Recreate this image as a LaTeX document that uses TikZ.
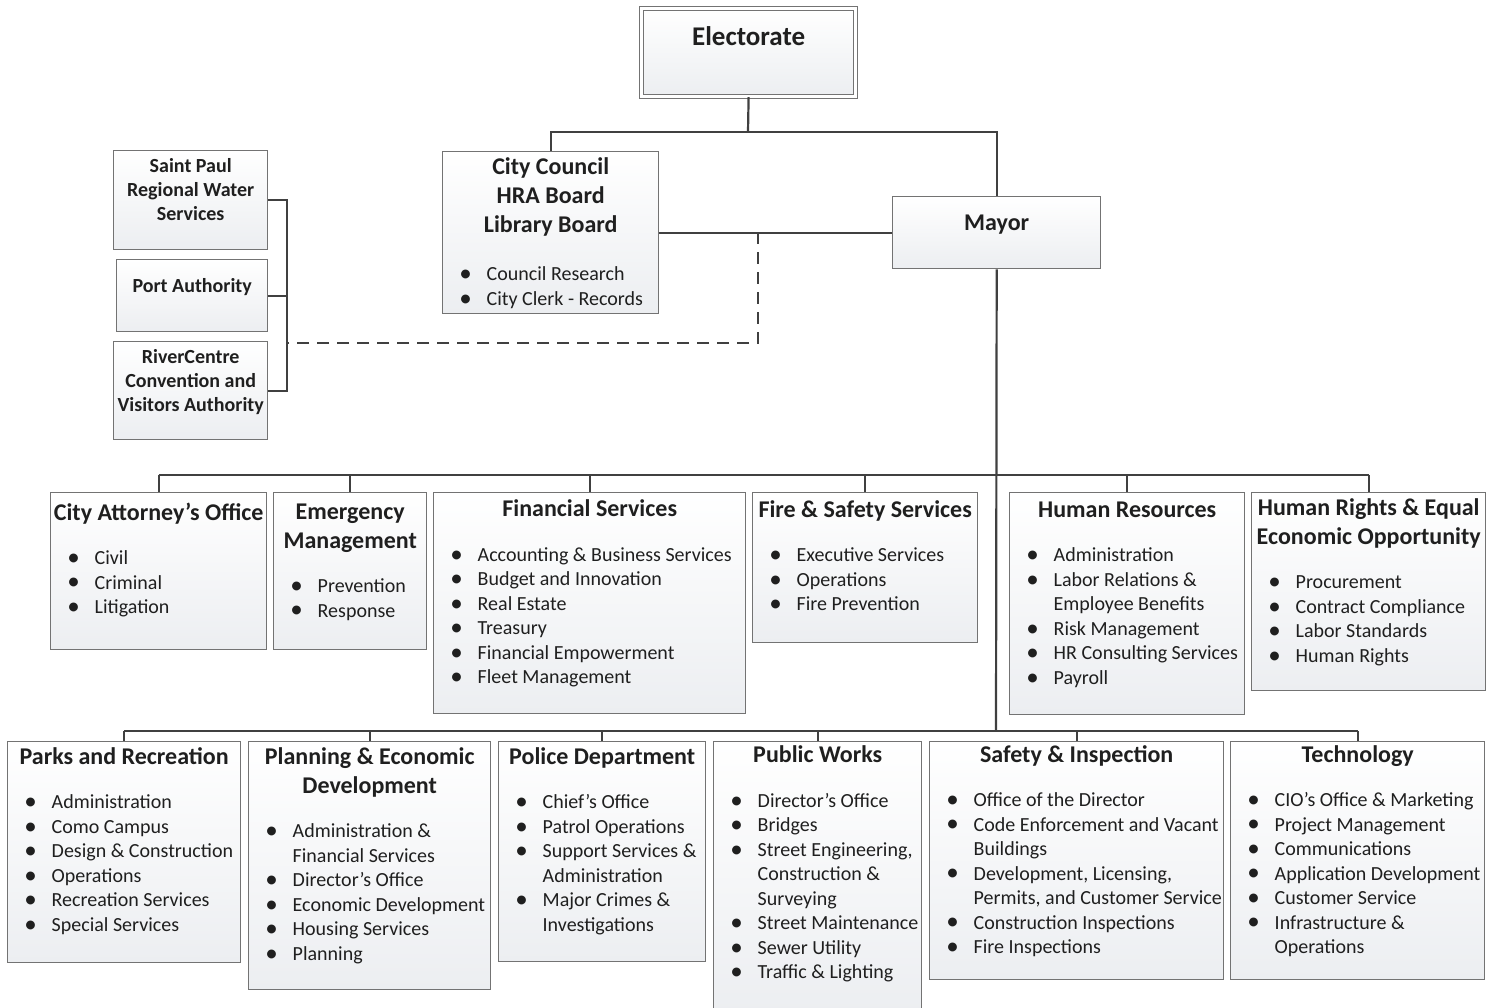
\documentclass[tikz,border=0pt]{standalone}
\usepackage{fontspec}
\setmainfont{Carlito}
\usepackage{tikz}

\definecolor{boxbot}{RGB}{236,238,241}
\newlength\px \setlength\px{0.5pt}
\newcommand{\bodyfont}{\fontsize{10}{12.25}\selectfont\mdseries}
\newcommand{\headfont}{\fontsize{12}{14.5}\selectfont\bfseries}
\newcommand{\itm}[1]{\par\noindent\hspace*{8.3pt}\makebox[13.7pt][l]{\raisebox{-0.1ex}{\scalebox{1.25}{\textbullet}}}#1}
\newcommand{\brk}{\newline\hspace*{22pt}}
% width, height (px), top pad, title, items
\newcommand{\unitbox}[5]{\begin{minipage}[t][#2\px][t]{#1\px}\vspace*{#3}\centering\headfont\strut #4\par\vspace{10pt}\raggedright\bodyfont #5\par\end{minipage}}
\newcommand{\agencybox}[4]{\begin{minipage}[t][#2\px][t]{#1\px}\vspace*{#3}\centering\fontsize{10}{12}\selectfont\bfseries\strut #4\par\end{minipage}}

\begin{document}
\begin{tikzpicture}[x=0.5pt,y=-0.5pt]
\tikzstyle{unit}=[draw=black!55,line width=0.7pt,top color=white,bottom color=boxbot,inner sep=0pt,anchor=north west,text=black!88]
\tikzstyle{link}=[draw=black!75,line width=1.1pt]
\useasboundingbox (0,0) rectangle (1499,1007);

% top of the chart
\node[unit,double=white,double distance=1.2pt,line width=0.6pt] (elect) at (641,8) {\unitbox{214}{88}{8.2pt}{\fontsize{13.5}{16}\selectfont Electorate}{}};
\node[unit] (council) at (442,151) {\unitbox{216}{162}{1.2pt}{City Council\\HRA Board\\Library Board}{\vspace{2pt}\itm{Council Research}\itm{City Clerk - Records}}};
\node[unit] (mayor) at (892,196) {\unitbox{208}{72}{6.7pt}{Mayor}{}};

% independent agencies
\node[unit] (spw) at (113,150) {\agencybox{154}{99}{2.3pt}{Saint Paul\\Regional Water\\Services}};
\node[unit] (port) at (116,259) {\agencybox{151}{72}{7.8pt}{Port Authority}};
\node[unit] (rcv) at (113,341) {\agencybox{154}{98}{2.3pt}{RiverCentre\\Convention and\\Visitors Authority}};

% first row of departments
\node[unit] (cao) at (50,492) {\unitbox{216}{157}{3.5pt}{City Attorney’s Office}{\itm{Civil}\itm{Criminal}\itm{Litigation}}};
\node[unit] (em) at (273,492) {\unitbox{153}{157}{3pt}{Emergency\\Management}{\itm{Prevention}\itm{Response}}};
\node[unit] (fin) at (433,492) {\unitbox{312}{221}{1.8pt}{Financial Services}{\itm{Accounting \& Business Services}\itm{Budget and Innovation}\itm{Real Estate}\itm{Treasury}\itm{Financial Empowerment}\itm{Fleet Management}}};
\node[unit] (fire) at (752,492) {\unitbox{225}{150}{2.2pt}{Fire \& Safety Services}{\itm{Executive Services}\itm{Operations}\itm{Fire Prevention}}};
\node[unit] (hr) at (1009,492) {\unitbox{235}{222}{2.2pt}{Human Resources}{\itm{Administration}\itm{Labor Relations \&\brk Employee Benefits}\itm{Risk Management}\itm{HR Consulting Services}\itm{Payroll}}};
\node[unit] (hreo) at (1251,492) {\unitbox{234}{198}{1.2pt}{Human Rights \& Equal\\Economic Opportunity}{\itm{Procurement}\itm{Contract Compliance}\itm{Labor Standards}\itm{Human Rights}}};

% second row of departments
\node[unit] (parks) at (7,741) {\unitbox{233}{221}{1.2pt}{Parks and Recreation}{\itm{Administration}\itm{Como Campus}\itm{Design \& Construction}\itm{Operations}\itm{Recreation Services}\itm{Special Services}}};
\node[unit] (ped) at (248,741) {\unitbox{242}{248}{1.2pt}{Planning \& Economic\\Development}{\itm{Administration \&\brk Financial Services}\itm{Director’s Office}\itm{Economic Development}\itm{Housing Services}\itm{Planning}}};
\node[unit] (police) at (498,741) {\unitbox{207}{220}{1.2pt}{Police Department}{\itm{Chief’s Office}\itm{Patrol Operations}\itm{Support Services \&\brk Administration}\itm{Major Crimes \&\brk Investigations}}};
\node[unit] (pw) at (713,741) {\unitbox{208}{272}{0.3pt}{Public Works}{\itm{Director’s Office}\itm{Bridges}\itm{Street Engineering,\brk Construction \&\brk Surveying}\itm{Street Maintenance}\itm{Sewer Utility}\itm{Traffic \& Lighting}}};
\node[unit] (dsi) at (929,741) {\unitbox{294}{238}{0pt}{Safety \& Inspection}{\itm{Office of the Director}\itm{Code Enforcement and Vacant\brk Buildings}\itm{Development, Licensing,\brk Permits, and Customer Service}\itm{Construction Inspections}\itm{Fire Inspections}}};
\node[unit] (tech) at (1230,741) {\unitbox{254}{238}{0pt}{Technology}{\itm{CIO’s Office \& Marketing}\itm{Project Management}\itm{Communications}\itm{Application Development}\itm{Customer Service}\itm{Infrastructure \&\brk Operations}}};

\coordinate (ebus) at (748,132);
\coordinate (cm) at (758,232);
\coordinate (bk) at (287,343);
\coordinate (bus1) at (996,475);
\coordinate (bus2) at (996,731);

\draw[link] (elect.south) -- (ebus);
\draw[link] (council.north) |- (ebus) -| (mayor.north);
\draw[link] (council.east) -- (mayor.west);
\draw[link,dash pattern=on 6pt off 4pt] (cm) |- (bk);
\draw[link] (spw.east) -| (bk);
\draw[link] (rcv.east) -| (bk);
\draw[link] (port.east) -- (port.east -| bk);

\draw[link] (mayor.south) -- (bus2);
\draw[link] (cao.north |- bus1) -- (hreo.north |- bus1);
\draw[link] (cao.north |- bus1) -- (cao.north);
\draw[link] (em.north |- bus1) -- (em.north);
\draw[link] (fin.north |- bus1) -- (fin.north);
\draw[link] (fire.north |- bus1) -- (fire.north);
\draw[link] (hr.north |- bus1) -- (hr.north);
\draw[link] (hreo.north |- bus1) -- (hreo.north);

\draw[link] (parks.north |- bus2) -- (tech.north |- bus2);
\draw[link] (parks.north |- bus2) -- (parks.north);
\draw[link] (ped.north |- bus2) -- (ped.north);
\draw[link] (police.north |- bus2) -- (police.north);
\draw[link] (pw.north |- bus2) -- (pw.north);
\draw[link] (dsi.north |- bus2) -- (dsi.north);
\draw[link] (tech.north |- bus2) -- (tech.north);
\end{tikzpicture}
\end{document}
